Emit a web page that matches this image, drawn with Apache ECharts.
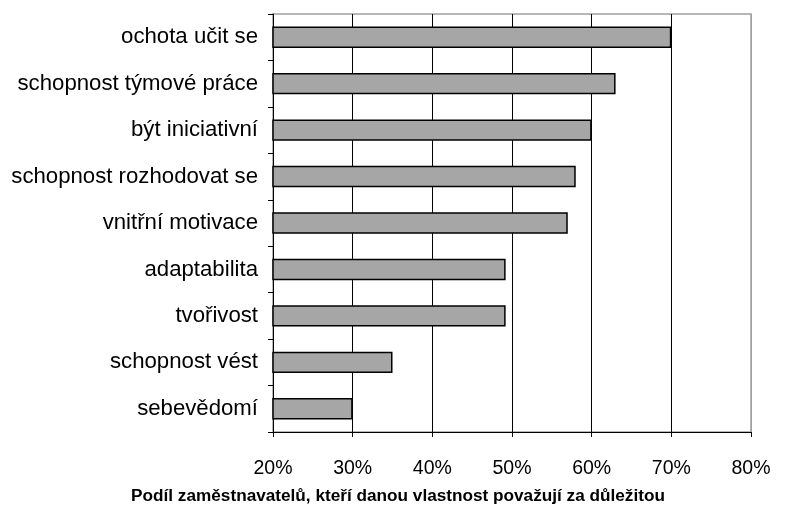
<!DOCTYPE html>
<html>
<head>
<meta charset="utf-8">
<script src="https://cdn.jsdelivr.net/npm/echarts@6/dist/echarts.min.js"></script>
<style>html,body{margin:0;padding:0;background:#fff;}#c{width:796px;height:510px;}</style>
</head>
<body>
<div id="c"></div>
<script>
const categories = ["ochota učit se","schopnost týmové práce","být iniciativní","schopnost rozhodovat se","vnitřní motivace","adaptabilita","tvořivost","schopnost vést","sebevědomí"];
const values = [70, 63, 60, 58, 57, 49.2, 49.2, 35, 30];
const axisTitle = "Podíl zaměstnavatelů, kteří danou vlastnost považují za důležitou";

const chart = echarts.init(document.getElementById('c'), null, {renderer:'canvas'});
chart.setOption({
  animation:false,
  backgroundColor:'#fff',
  title:{text:axisTitle,left:'center',top:488,padding:0,textStyle:{fontFamily:'Liberation Sans, Arial',fontWeight:'bold',fontSize:17.2,color:'#000'}},
  grid:{left:273,right:45,top:14,bottom:78,show:true,borderColor:'#a0a0a0',borderWidth:1.5,containLabel:false},
  xAxis:{type:'value',min:20,max:80,interval:10,
    axisLine:{show:true,lineStyle:{color:'#000',width:1}},
    axisTick:{show:true,length:5,lineStyle:{color:'#000'}},
    axisLabel:{formatter:'{value}%',color:'#000',fontFamily:'Liberation Sans, Arial',fontSize:19.5,margin:27},
    splitLine:{show:true,lineStyle:{color:['#000','#000','#000','#000','#000','#000','#a0a0a0'],width:1}}
  },
  yAxis:{type:'category',data:categories,inverse:true,
    axisLine:{show:true,lineStyle:{color:'#000',width:1}},
    axisTick:{show:true,length:5,lineStyle:{color:'#000'}},
    axisLabel:{color:'#000',fontFamily:'Liberation Sans, Arial',fontSize:22.2,margin:15},
    splitLine:{show:false}
  },
  series:[{type:'bar',data:values,barCategoryGap:'54%',
    itemStyle:{color:'#a6a6a6',borderColor:'#000',borderWidth:1.5}}]
});
</script>
</body>
</html>
